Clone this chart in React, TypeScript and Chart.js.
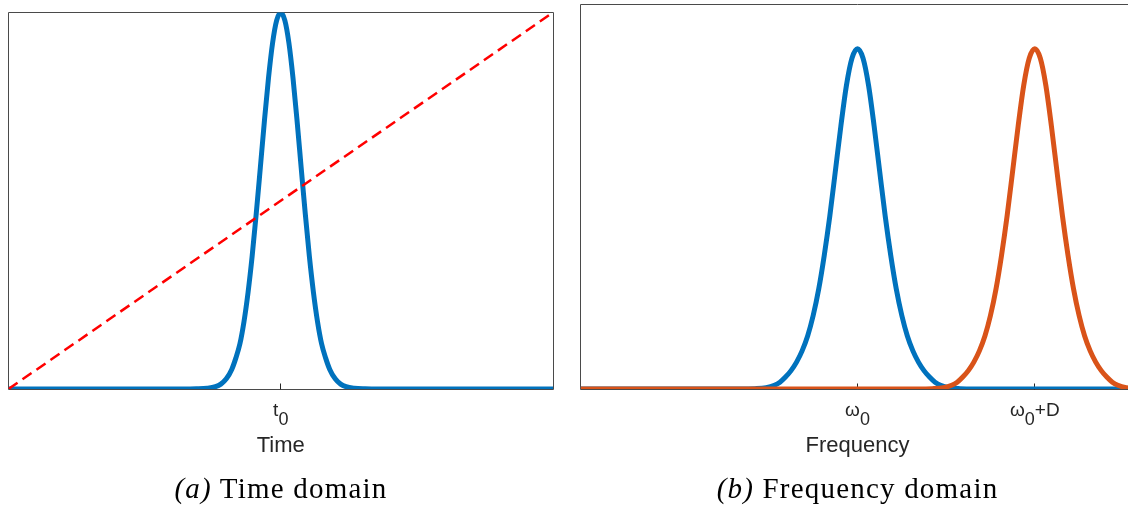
import React, { useEffect, useRef } from "react";
import { Chart, registerables } from "chart.js";

Chart.register(...registerables);

// ---- Time domain: pulse centred on t0 and the linear chirp reference ----
const T0 = 50;
const timeX = [
  0, 32, 34.5, 36.5, 38, 39, 40, 41, 41.75, 42.5, 43.25, 44, 44.75, 45.5, 46.25, 47, 47.75, 48.5, 49.25,
  50,
  50.75, 51.5, 52.25, 53, 53.75, 54.5, 55.25, 56, 56.75, 57.5, 58.25, 59, 60, 61, 62, 63.5, 65.5, 68, 100,
];
const pulseY = [
  0, 0, 0.0005, 0.002, 0.006, 0.013, 0.027, 0.052, 0.082, 0.12, 0.179, 0.257, 0.353, 0.466, 0.588, 0.712, 0.826, 0.919, 0.979,
  1,
  0.979, 0.919, 0.826, 0.712, 0.588, 0.466, 0.353, 0.257, 0.179, 0.12, 0.082, 0.052, 0.027, 0.013, 0.006, 0.002, 0.0005, 0, 0,
];
const chirpX = [0, 100];
const chirpY = [0, 1];

// ---- Frequency domain: spectrum at omega0 and the copy shifted by D ----
const OMEGA0 = 50;
const SHIFT_D = 32;
const freqX = [
  0, 29, 31.5, 33.5, 35, 36, 37, 38, 39, 40, 41, 42, 43, 44, 45, 46, 47, 48, 49,
  50,
  51, 52, 53, 54, 55, 56, 57, 58, 59, 60, 61, 62, 63, 64, 65, 66.5, 68.5, 71, 100,
];
const spectrumY = [
  0, 0, 0.001, 0.004, 0.011, 0.02, 0.035, 0.054, 0.079, 0.112, 0.156, 0.216, 0.294, 0.393, 0.508, 0.64, 0.773, 0.892, 0.972,
  1,
  0.972, 0.892, 0.773, 0.64, 0.508, 0.393, 0.294, 0.216, 0.156, 0.112, 0.079, 0.054, 0.035, 0.02, 0.011, 0.004, 0.001, 0, 0,
];
const shiftedX = [
  0, 61, 63.5, 65.5, 67, 68, 69, 70, 71, 72, 73, 74, 75, 76, 77, 78, 79, 80, 81,
  82,
  83, 84, 85, 86, 87, 88, 89, 90, 91, 92, 93, 94, 95, 96, 97, 98.5, 100,
];
const shiftedY = [
  0, 0, 0.001, 0.004, 0.011, 0.02, 0.035, 0.054, 0.079, 0.112, 0.156, 0.216, 0.294, 0.393, 0.508, 0.64, 0.773, 0.892, 0.972,
  1,
  0.972, 0.892, 0.773, 0.64, 0.508, 0.393, 0.294, 0.216, 0.156, 0.112, 0.079, 0.054, 0.035, 0.02, 0.011, 0.004, 0.0015,
];

const timeTicks = [{ value: T0, main: "t", sub: "0", rest: "" }];
const freqTicks = [
  { value: OMEGA0, main: "ω", sub: "0", rest: "" },
  { value: OMEGA0 + SHIFT_D, main: "ω", sub: "0", rest: "+D" },
];

const BLUE = "#0072BD";
const ORANGE = "#D95319";
const RED = "#FF0000";
const INK = "#262626";
const FRAME = "#4a4a4a";
const SANS = '"Liberation Sans", Arial, Helvetica, sans-serif';

const toPoints = (xs: number[], ys: number[]) => xs.map((x, i) => ({ x, y: ys[i] }));

const half = (v: number) => Math.round(v - 0.5) + 0.5;

// Box frame, inward ticks, sub-scripted tick labels and axis title
const panelDecor = {
  id: "panelDecor",
  beforeDatasetsDraw(chart: any, _args: any, opts: any) {
    const { ctx, chartArea: a } = chart;
    const xs = chart.scales.x;
    ctx.save();
    ctx.strokeStyle = FRAME;
    ctx.lineWidth = 1;
    const L = half(a.left);
    const T = half(a.top);
    const R = half(a.right);
    const B = half(a.bottom);
    ctx.beginPath();
    ctx.moveTo(L, B);
    ctx.lineTo(L, T);
    ctx.lineTo(R, T);
    ctx.lineTo(R, B);
    ctx.lineTo(L, B);
    ctx.stroke();
    ctx.strokeStyle = INK;
    for (const t of opts.ticks || []) {
      const px = half(xs.getPixelForValue(t.value));
      ctx.beginPath();
      ctx.moveTo(px, B);
      ctx.lineTo(px, B - 6);
      ctx.stroke();
    }
    ctx.restore();
  },
  afterDraw(chart: any, _args: any, opts: any) {
    const { ctx, chartArea: a } = chart;
    const xs = chart.scales.x;
    ctx.save();
    ctx.fillStyle = INK;
    ctx.textBaseline = "alphabetic";
    ctx.textAlign = "left";
    const mainFont = `19px ${SANS}`;
    const subFont = `18px ${SANS}`;
    for (const t of opts.ticks || []) {
      const px = xs.getPixelForValue(t.value);
      ctx.font = mainFont;
      const wMain = ctx.measureText(t.main).width;
      const wRest = t.rest ? ctx.measureText(t.rest).width : 0;
      ctx.font = subFont;
      const wSub = ctx.measureText(t.sub).width;
      let x = px - (wMain + wSub + wRest) / 2;
      ctx.font = mainFont;
      ctx.fillText(t.main, x, 416);
      x += wMain;
      ctx.font = subFont;
      ctx.fillText(t.sub, x, 424.5);
      x += wSub;
      if (t.rest) {
        ctx.font = mainFont;
        ctx.fillText(t.rest, x, 416);
      }
    }
    ctx.font = `22px ${SANS}`;
    ctx.textAlign = "center";
    ctx.fillText(opts.title, (a.left + a.right) / 2, 452);
    ctx.restore();
  },
};

const baseOptions = (pad: any, yMax: number, ticks: any[], title: string) => ({
  animation: false as const,
  responsive: false,
  maintainAspectRatio: false,
  layout: { autoPadding: false, padding: pad },
  plugins: {
    legend: { display: false },
    tooltip: { enabled: false },
    panelDecor: { ticks, title },
  },
  elements: { point: { radius: 0 } },
  scales: {
    x: { type: "linear" as const, min: 0, max: 100, display: false },
    y: { type: "linear" as const, min: 0, max: yMax, display: false },
  },
});

const curve = (data: any[], color: string, order: number) => ({
  data,
  borderColor: color,
  backgroundColor: color,
  borderWidth: 5,
  cubicInterpolationMode: "monotone" as const,
  borderJoinStyle: "round" as const,
  fill: false,
  pointRadius: 0,
  order,
});

const captionStyle = (left: number, width: number): React.CSSProperties => ({
  position: "absolute",
  left,
  width,
  top: 472,
  textAlign: "center",
  fontFamily: '"Liberation Serif", "Times New Roman", serif',
  fontSize: 29,
  lineHeight: "32px",
  letterSpacing: "1.2px",
  color: "#000",
  whiteSpace: "nowrap",
});

export default function App() {
  const timeRef = useRef<HTMLCanvasElement>(null);
  const freqRef = useRef<HTMLCanvasElement>(null);

  useEffect(() => {
    const charts: Chart[] = [];
    if (timeRef.current) {
      charts.push(
        new Chart(timeRef.current, {
          type: "line",
          data: {
            datasets: [
              curve(toPoints(timeX, pulseY), BLUE, 1),
              {
                data: toPoints(chirpX, chirpY),
                borderColor: RED,
                borderWidth: 2.5,
                borderDash: [11, 6],
                fill: false,
                pointRadius: 0,
                order: 0,
              },
            ],
          },
          options: baseOptions({ left: 8.5, top: 12.5, right: 13, bottom: 117 }, 1, timeTicks, "Time") as any,
          plugins: [panelDecor],
        })
      );
    }
    if (freqRef.current) {
      charts.push(
        new Chart(freqRef.current, {
          type: "line",
          data: {
            datasets: [
              curve(toPoints(freqX, spectrumY), BLUE, 1),
              curve(toPoints(shiftedX, shiftedY), ORANGE, 0),
            ],
          },
          options: baseOptions({ left: 14.5, top: 4.5, right: 31.5, bottom: 117 }, 1.13, freqTicks, "Frequency") as any,
          plugins: [panelDecor],
        })
      );
    }
    return () => charts.forEach((c) => c.destroy());
  }, []);

  return (
    <div
      style={{
        position: "absolute",
        left: 0,
        top: 0,
        width: 1128,
        height: 506,
        overflow: "hidden",
        background: "#fff",
      }}
    >
      <canvas
        ref={timeRef}
        width={566}
        height={506}
        style={{ position: "absolute", left: 0, top: 0, width: 566, height: 506 }}
      />
      <canvas
        ref={freqRef}
        width={600}
        height={506}
        style={{ position: "absolute", left: 566, top: 0, width: 600, height: 506 }}
      />
      <div style={captionStyle(0, 562)}>
        <i>(a)</i> Time domain
      </div>
      <div style={captionStyle(581, 553)}>
        <i>(b)</i> Frequency domain
      </div>
    </div>
  );
}
